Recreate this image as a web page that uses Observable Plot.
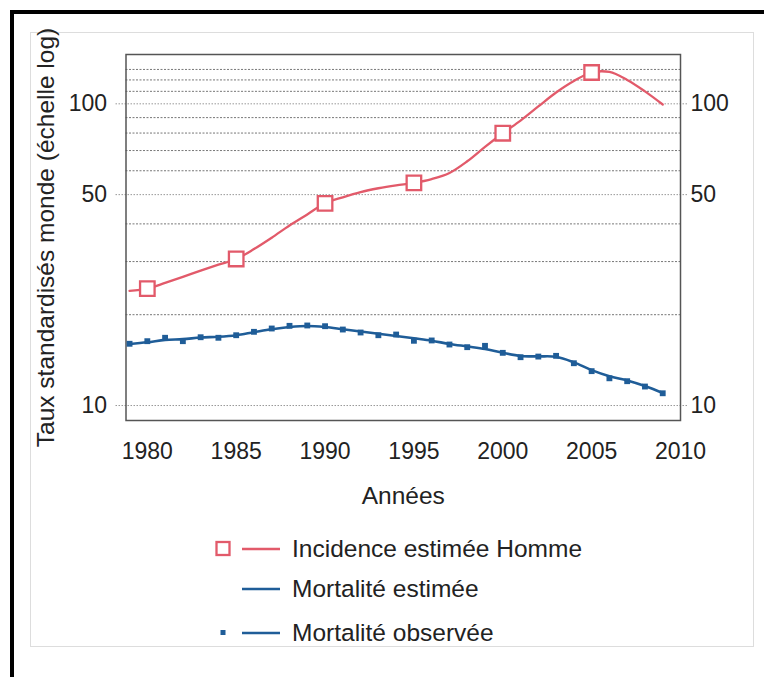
<!DOCTYPE html>
<html><head><meta charset="utf-8">
<script src="https://cdn.jsdelivr.net/npm/d3@7"></script>
<script src="https://cdn.jsdelivr.net/npm/@observablehq/plot@0.6"></script>
<style>
html,body{margin:0;padding:0;background:#fff;}
#page{position:relative;width:764px;height:677px;overflow:hidden;font-family:"Liberation Sans",Arial,Helvetica,sans-serif;color:#222;}
#outer{position:absolute;left:10px;top:10px;width:800px;height:700px;border-left:4px solid #000;border-top:4px solid #000;}
#inner{position:absolute;left:30px;top:32px;width:722px;height:613px;border:1px solid #ddd;}
#chart{position:absolute;left:0;top:0;}
.leg{position:absolute;left:214px;height:30px;display:flex;align-items:center;font-size:24.5px;white-space:nowrap;}
.leg svg{margin-right:8px;flex:none;}
</style></head><body>
<div id="page"><div id="outer"></div><div id="inner"></div><div id="chart"></div><div id="legend"></div></div>
<script>
// ---- data ----
const years = [1979,1980,1981,1982,1983,1984,1985,1986,1987,1988,1989,1990,1991,1992,1993,1994,1995,1996,1997,1998,1999,2000,2001,2002,2003,2004,2005,2006,2007,2008,2009];
const incidenceEstimee = [24.0,24.4,25.5,26.7,28.0,29.3,30.6,33.0,36.0,39.5,43.0,46.8,49.0,51.0,52.5,53.7,54.7,56.3,59.0,64.5,72.0,79.9,88,98,109,119,127,127.5,120,110,99.5];
const incidenceYears = [1980,1985,1990,1995,2000,2005];
const incidencePoints = [24.4,30.6,46.8,54.7,79.9,127];
const mortaliteEstimee = [16.0,16.2,16.5,16.6,16.8,16.9,17.1,17.5,17.9,18.2,18.35,18.2,17.9,17.6,17.3,17.0,16.7,16.4,16.0,15.7,15.4,14.95,14.6,14.55,14.5,13.9,13.1,12.5,12.1,11.6,11.0];
const mortaliteObservee = [16.02,16.34,16.77,16.34,16.84,16.77,17.10,17.55,18.0,18.37,18.42,18.32,17.86,17.46,17.10,17.19,16.39,16.43,15.93,15.61,15.77,14.95,14.46,14.53,14.61,13.81,13.0,12.31,12.04,11.56,10.98];
const xTicks = [1980,1985,1990,1995,2000,2005,2010];
const yTicks = [10,50,100];
const minorGrid = [20,30,40,60,70,80,90,110,120,130];
const majorGrid = [10,50,100];
const legendLabels = ["Incidence estimée Homme","Mortalité estimée","Mortalité observée"];

const RED = "#e25a6a", BLUE = "#1f5d98";

const inc = years.map((year,i)=>({year, value: incidenceEstimee[i]}));
const incPts = incidenceYears.map((year,i)=>({year, value: incidencePoints[i]}));
const mEst = years.map((year,i)=>({year, value: mortaliteEstimee[i]}));
const mObs = years.map((year,i)=>({year, value: mortaliteObservee[i]}));

const chart = Plot.plot({
  width: 764, height: 520,
  marginTop: 54, marginBottom: 100, marginLeft: 125.5, marginRight: 84,
  style: {fontFamily: '"Liberation Sans", Arial, Helvetica, sans-serif', fontSize: "23px", color: "#222", background: "transparent"},
  x: {domain: [1978.8, 2010]},
  y: {type: "log", domain: [8.92, 145.7]},
  marks: [
    Plot.ruleY(minorGrid, {stroke: "#777", strokeDasharray: "2,1.5", strokeWidth: 1}),
    Plot.ruleY(majorGrid, {stroke: "#999", strokeDasharray: "1.5,1.5", strokeWidth: 1, insetLeft: -10, insetRight: -8}),
    Plot.frame({stroke: "#555", strokeWidth: 1.5}),
    Plot.axisX(xTicks, {tickSize: 0, tickPadding: 22, tickFormat: "d", label: null}),
    Plot.axisX([], {label: "Années", labelAnchor: "center", labelOffset: 83, labelArrow: "none", fontSize: 24.5, tickSize: 0}),
    Plot.axisY(yTicks, {anchor: "left", tickSize: 0, tickPadding: 19, tickFormat: "d", label: null}),
    Plot.axisY([], {anchor: "left", tickSize: 0, label: "Taux standardisés monde (échelle log)", labelAnchor: "center", labelOffset: 89, labelArrow: "none", fontSize: 24.5, dx: -4, dy: 5}),
    Plot.axisY(yTicks, {anchor: "right", tickSize: 0, tickPadding: 10, tickFormat: "d", label: null}),
    Plot.line(inc, {x: "year", y: "value", stroke: RED, strokeWidth: 2.3, curve: "catmull-rom"}),
    Plot.dot(incPts, {x: "year", y: "value", symbol: "square", r: 8.2, fill: "white", stroke: RED, strokeWidth: 2.3}),
    Plot.line(mEst, {x: "year", y: "value", stroke: BLUE, strokeWidth: 2.6, curve: "catmull-rom"}),
    Plot.dot(mObs, {x: "year", y: "value", symbol: "square", r: 3.3, fill: BLUE})
  ]
});
document.getElementById("chart").appendChild(chart);

// ---- legend ----
const legend = document.getElementById("legend");
const rows = [
  {top: 534, color: RED, marker: "open"},
  {top: 574, color: BLUE, marker: null},
  {top: 618, color: BLUE, marker: "dot"}
];
rows.forEach((r, i) => {
  const div = document.createElement("div");
  div.className = "leg";
  div.style.top = r.top + "px";
  let m = "";
  if (r.marker === "open") m = `<rect x="2.5" y="8" width="13" height="13" fill="white" stroke="${r.color}" stroke-width="2.3"/>`;
  if (r.marker === "dot") m = `<rect x="6.5" y="12" width="5" height="5" fill="${r.color}"/>`;
  div.innerHTML = `<svg width="70" height="30">${m}<line x1="28" x2="66" y1="15" y2="15" stroke="${r.color}" stroke-width="2.5"/></svg><span>${legendLabels[i]}</span>`;
  legend.appendChild(div);
});
</script>
</body></html>
